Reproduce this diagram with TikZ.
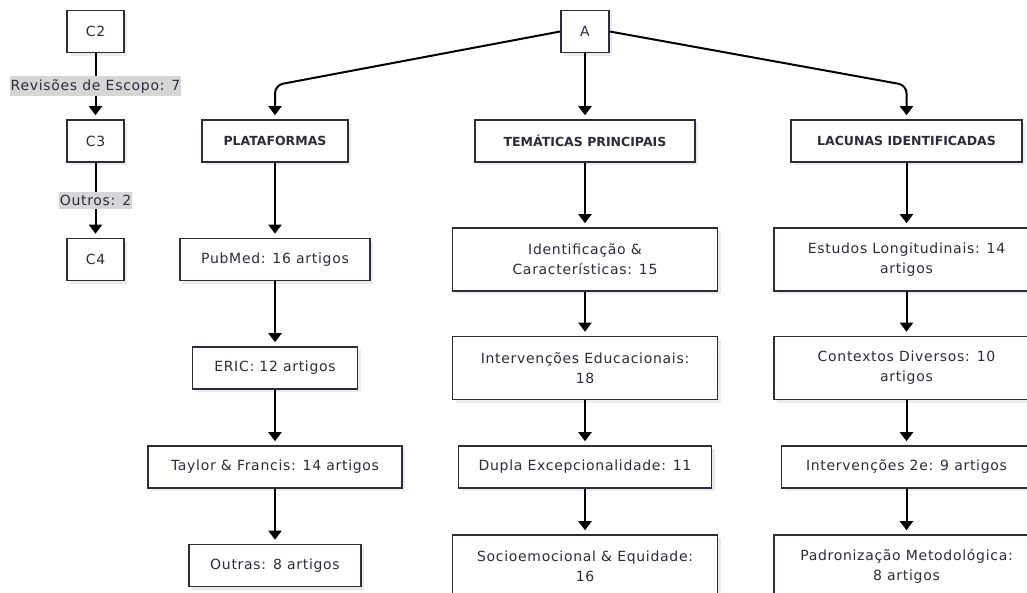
\documentclass[tikz,border=0pt]{standalone}
\usepackage{fontspec}
\setmainfont{DejaVu Sans}[LetterSpace=5]
\newfontfamily\headfont{DejaVu Sans}
\usetikzlibrary{arrows.meta}
\usetikzlibrary{shadows}
\definecolor{ink}{RGB}{44,44,62}
\definecolor{tagfill}{RGB}{214,214,214}
\tikzset{%
  block/.style = {draw=ink, line width=1.6pt, rectangle, fill=white, text=ink,
    minimum height=42pt, inner xsep=4pt, font=\fontsize{14}{20}\selectfont,
    drop shadow={shadow xshift=3pt, shadow yshift=-3pt, fill=black, opacity=0.08}},
  head/.style  = {block, font=\headfont\bfseries\fontsize{12.5}{14}\selectfont}, % Column title
  wide/.style  = {block, minimum width=265pt, minimum height=63pt, align=center},
  tag/.style   = {fill=tagfill, text=ink, inner xsep=1pt, inner ysep=3pt,
    font=\fontsize{14}{16}\selectfont}, % Edge label
  link/.style  = {->, line width=2pt, shorten >=4pt}
}
\begin{document}
\begin{tikzpicture}[x=1pt, y=-1pt, >={Triangle[width=13pt,length=9pt]}]
        \useasboundingbox (0,0) rectangle (1027,592);
        \clip (0,0) rectangle (1027,592);
        \draw
        node at(95.5,31.5)[block, minimum width=57pt, name=Cat2]{C2}
        node [block, minimum width=57pt, name=Cat3, below of=Cat2, node distance=109.5pt]{C3}
        node [block, minimum width=57pt, name=Cat4, below of=Cat3, node distance=118.5pt]{C4};
        \draw
        node at(585,31.5)[block, minimum width=48pt, name=Root]{A};
        \draw
        node at(275,141)[head, minimum width=146pt, name=Plat1]{PLATAFORMAS}
        node [block, minimum width=190pt, name=Plat2, below of=Plat1, node distance=118.5pt]{PubMed: 16 artigos}
        node [block, minimum width=165pt, name=Plat3, below of=Plat2, node distance=108.5pt]{ERIC: 12 artigos}
        node [block, minimum width=254pt, name=Plat4, below of=Plat3, node distance=99pt]{Taylor \& Francis: 14 artigos}
        node [block, minimum width=172pt, name=Plat5, below of=Plat4, node distance=98.5pt]{Outras: 8 artigos};
        \draw
        node at(585,141)[head, minimum width=220pt, name=Tema1]{TEMÁTICAS PRINCIPAIS}
        node [wide, name=Tema2, below of=Tema1, node distance=118.5pt]{Identificação \&\\Características: 15}
        node [wide, name=Tema3, below of=Tema2, node distance=108.5pt]{Intervenções Educacionais:\\18}
        node [block, minimum width=253pt, name=Tema4, below of=Tema3, node distance=99pt]{Dupla Excepcionalidade: 11}
        node [wide, name=Tema5, below of=Tema4, node distance=99.5pt]{Socioemocional \& Equidade:\\16};
        \draw
        node at(906.5,141)[head, minimum width=231pt, name=Lacu1]{LACUNAS IDENTIFICADAS}
        node [wide, name=Lacu2, below of=Lacu1, node distance=118.5pt]{Estudos Longitudinais: 14\\artigos}
        node [wide, name=Lacu3, below of=Lacu2, node distance=108.5pt]{Contextos Diversos: 10\\artigos}
        node [block, minimum width=250pt, name=Lacu4, below of=Lacu3, node distance=99pt]{Intervenções 2e: 9 artigos}
        node [wide, name=Lacu5, below of=Lacu4, node distance=99.5pt]{Padronização Metodológica:\\8 artigos};
        \draw[link](Cat2) -- node[tag]{Revisões de Escopo: 7} (Cat3);
        \draw[link](Cat3) -- node[tag]{Outros: 2} (Cat4);
        \draw[link, rounded corners=8pt](Root.west) -- ([yshift=34pt]Plat1.north) -- (Plat1.north);
        \draw[link](Root) -- (Tema1);
        \draw[link, rounded corners=8pt](Root.east) -- ([yshift=34pt]Lacu1.north) -- (Lacu1.north);
        \draw[link](Plat1) -- (Plat2);
        \draw[link](Plat2) -- (Plat3);
        \draw[link](Plat3) -- (Plat4);
        \draw[link](Plat4) -- (Plat5);
        \draw[link](Tema1) -- (Tema2);
        \draw[link](Tema2) -- (Tema3);
        \draw[link](Tema3) -- (Tema4);
        \draw[link](Tema4) -- (Tema5);
        \draw[link](Lacu1) -- (Lacu2);
        \draw[link](Lacu2) -- (Lacu3);
        \draw[link](Lacu3) -- (Lacu4);
        \draw[link](Lacu4) -- (Lacu5);
    \end{tikzpicture}
\end{document}
